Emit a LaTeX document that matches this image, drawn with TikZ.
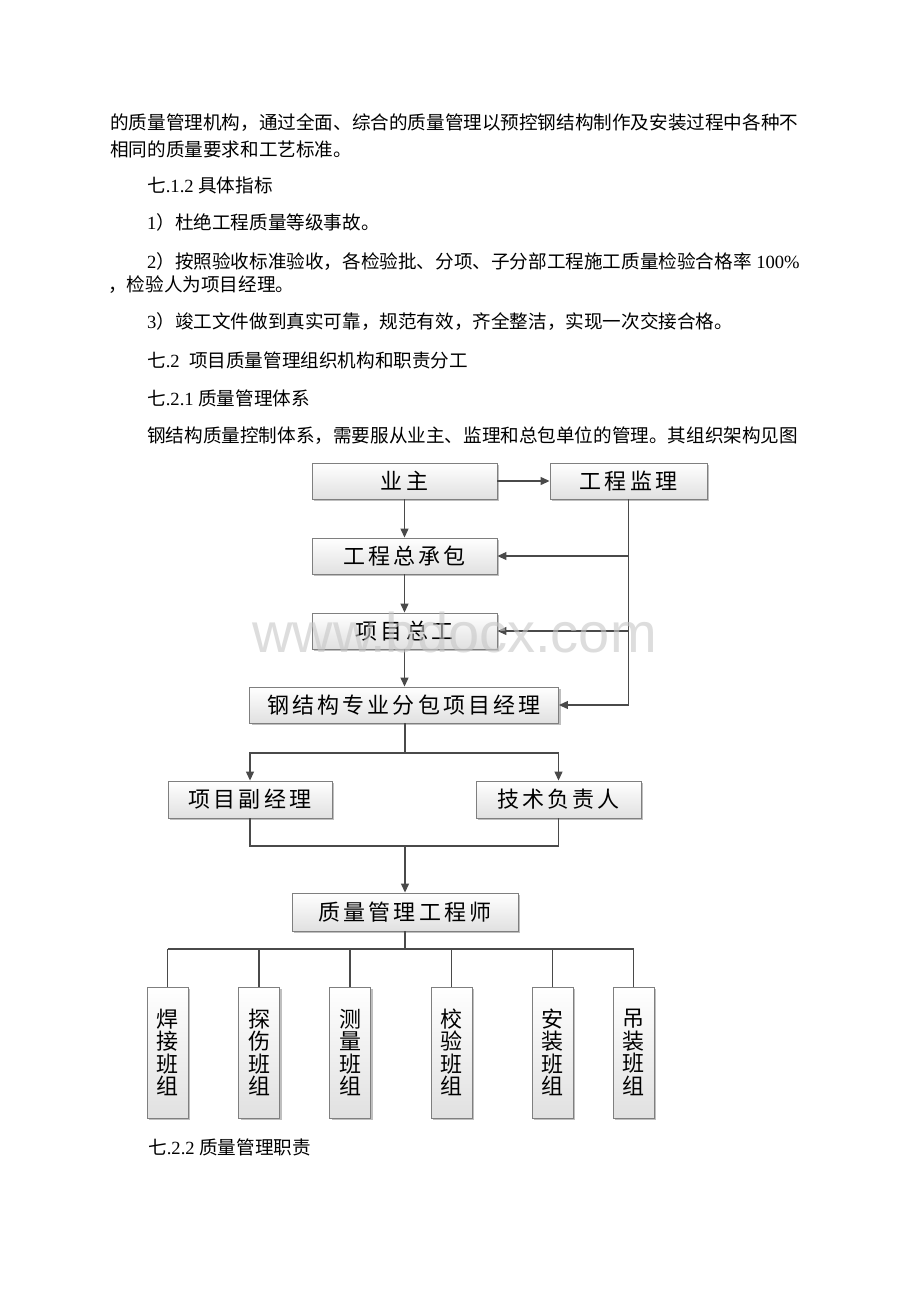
\documentclass[tikz,border=0pt]{standalone}
\usepackage{fontspec}
\setmainfont{Liberation Serif}
\newfontfamily\cjk{Noto Sans CJK SC}
\newfontfamily\boxfont[LetterSpace=14]{Noto Sans CJK SC}
\newfontfamily\wmfont{Liberation Sans}
\usetikzlibrary{arrows.meta,shadows,calc}
\definecolor{linecol}{HTML}{4A4A4A}
\definecolor{bordercol}{HTML}{7F7F7F}
\tikzset{
  txt/.style={anchor=west, inner sep=0pt, font=\fontsize{18.6}{20}\selectfont},
  orgbox/.style={draw=bordercol, line width=0.9pt, top color=white, bottom color=black!12,
     inner sep=0pt, font=\boxfont\fontsize{22}{24}\selectfont,
     drop shadow={shadow xshift=2pt, shadow yshift=-2pt, fill=black!45, opacity=0.55}},
  vbox/.style={orgbox, minimum width=41pt, minimum height=131pt, align=center,
     font=\cjk\fontsize{22}{22.5}\selectfont},
  conn/.style={draw=linecol, line width=1.2pt},
  arr/.style={conn, -{Triangle[length=9pt,width=8pt]}}
}
\begin{document}
\begin{tikzpicture}[x=1pt,y=-1pt]
\useasboundingbox (0,0) rectangle (920,1302);
\fill[white] (0,0) rectangle (920,1302);

% body text
\node[txt] (t1) at (110,123) {\cjk 的质量管理机构，通过全面、综合的质量管理以预控钢结构制作及安装过程中各种不};
\node[txt] (t2) at (110,149) {\cjk 相同的质量要求和工艺标准。};
\node[txt] (t3) at (147,185) {{\cjk 七}.1.2 {\cjk 具体指标}};
\node[txt] (t4) at (147,222) {1{\cjk ）杜绝工程质量等级事故。}};
\node[txt] (t5) at (147,262) {2{\cjk ）按照验收标准验收，各检验批、分项、子分部工程施工质量检验合格率} 100\%};
\node[txt] (t6) at (108,285) {\cjk ，检验人为项目经理。};
\node[txt] (t7) at (147,322) {3{\cjk ）竣工文件做到真实可靠，规范有效，齐全整洁，实现一次交接合格。}};
\node[txt] (t8) at (147,360) {{\cjk 七}.2\ \ {\cjk 项目质量管理组织机构和职责分工}};
\node[txt] (t9) at (147,398) {{\cjk 七}.2.1 {\cjk 质量管理体系}};
\node[txt] (t10) at (147,436) {\cjk 钢结构质量控制体系，需要服从业主、监理和总包单位的管理。其组织架构见图};
\node[txt] (t11) at (148,1147) {{\cjk 七}.2.2 {\cjk 质量管理职责}};

% org boxes
\node[orgbox, minimum width=185pt, minimum height=36pt] (yz) at (404.5,481) {业主};
\node[orgbox, minimum width=157pt, minimum height=36pt] (jl) at (628.5,481) {工程监理};
\node[orgbox, minimum width=185pt, minimum height=36pt] (zcb) at (404.5,556) {工程总承包};
\node[orgbox, minimum width=185pt, minimum height=36pt] (zg) at (404.5,631) {项目总工};
\node[orgbox, minimum width=309pt, minimum height=36pt] (gjg) at (404,705) {钢结构专业分包项目经理};
\node[orgbox, minimum width=164pt, minimum height=37pt] (fjl) at (250,799.5) {项目副经理};
\node[orgbox, minimum width=165pt, minimum height=37pt] (js) at (558.5,799.5) {技术负责人};
\node[orgbox, minimum width=226pt, minimum height=38pt] (zl) at (405,912) {质量管理工程师};

\node[vbox] (b1) at (167.5,1052.5) {焊\\接\\班\\组};
\node[vbox] (b2) at (259,1052.5) {探\\伤\\班\\组};
\node[vbox] (b3) at (350,1052.5) {测\\量\\班\\组};
\node[vbox] (b4) at (451.5,1052.5) {校\\验\\班\\组};
\node[vbox] (b5) at (552.5,1052.5) {安\\装\\班\\组};
\node[vbox] (b6) at (633.5,1052.5) {吊\\装\\班\\组};

% connectors
\draw[arr] (yz.east) -- (jl.west);
\draw[arr] (yz.south) -- (zcb.north);
\draw[arr] (zcb.south) -- (zg.north);
\draw[arr] (zg.south) -- (gjg.north -| zg.south);
\coordinate (rb) at (jl.south |- gjg.east);
\draw[conn] (jl.south) -- (rb);
\draw[arr] (rb) -- (gjg.east);
\draw[arr] (jl.south |- zcb.east) -- (zcb.east);
\draw[arr] (jl.south |- zg.east) -- (zg.east);

\coordinate (sp) at (405,753);
\draw[conn] (gjg.south -| sp) -- (sp);
\draw[arr] (sp) -| (fjl.north);
\draw[arr] (sp) -| (js.north);
\coordinate (mg) at (405,846);
\draw[conn] (fjl.south) |- (mg) -| (js.south);
\draw[arr] (mg) -- (zl.north);

\coordinate (bus) at (405,949);
\draw[conn] (zl.south) -- (bus);
\draw[conn] (b1.north |- bus) -- (b6.north |- bus);
\foreach \b in {b1,b2,b3,b4,b5,b6} { \draw[conn] (\b.north |- bus) -- (\b.north); }

% watermark
\node[anchor=base west, inner sep=0pt, text=black!22, opacity=0.6,
      font=\wmfont\fontsize{56}{60}\selectfont] (wm) at (252,652) {www.bdocx.com};
\end{tikzpicture}
\end{document}
